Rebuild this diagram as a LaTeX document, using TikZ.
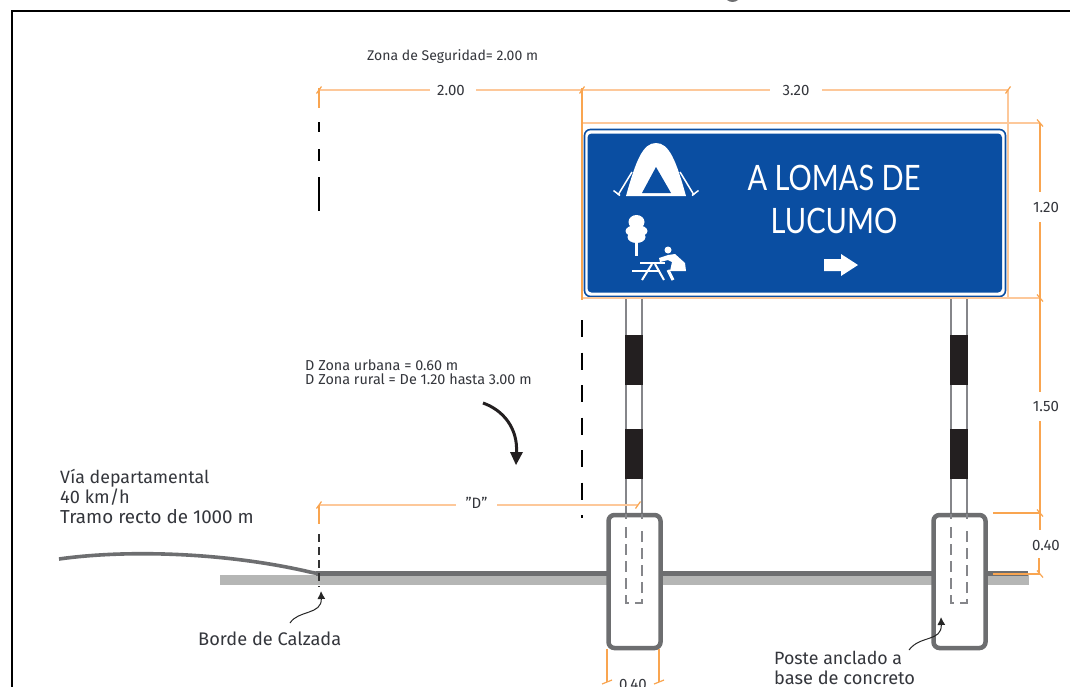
\documentclass[tikz,border=0pt]{standalone}
\usepackage{fontspec}
\setmainfont{Fira Sans}
\newfontfamily\signfont[FakeStretch=0.83]{Lato}
\usetikzlibrary{arrows.meta}
\definecolor{signblue}{HTML}{0A4EA2}
\definecolor{dimpale}{HTML}{FDC89A}
\definecolor{dimorange}{HTML}{F9A550}
\definecolor{roadgray}{HTML}{B5B6B5}
\definecolor{basegray}{HTML}{6D6E70}
\definecolor{postgray}{HTML}{85868A}
\definecolor{inkgray}{HTML}{34363C}
\definecolor{barblack}{HTML}{231F20}
\tikzset{
  dimline/.style={draw=dimpale,line width=1.6pt},
  dimvert/.style={draw=dimorange,line width=1.1pt},
  dimtick/.style={draw=dimorange,line width=1.2pt},
  dimlabel/.style={text=inkgray,font=\fontsize{15}{15}\selectfont,inner ysep=1pt},
  smalllabel/.style={text=inkgray,font=\fontsize{14.4}{14.4}\selectfont,anchor=west,inner sep=0pt},
  biglabel/.style={text=inkgray,font=\fontsize{18.2}{18.2}\selectfont,anchor=west,inner sep=0pt},
  signtext/.style={text=white,font=\signfont\fontsize{35}{35}\selectfont,inner sep=0pt},
  refdash/.style={draw=black,line width=1.3pt},
  postline/.style={draw=postgray,line width=1.4pt},
  postdash/.style={draw=postgray,line width=1.2pt,dash pattern=on 11pt off 6pt},
  basebox/.style={draw=basegray,line width=4.5pt,fill=white,rounded corners=6pt},
  band/.style={fill=barblack,draw=none},
  leader/.style={draw=black!85,line width=1pt,-{Latex[length=8pt,width=8pt]}},
  icon/.style={fill=white,draw=none},
  iconline/.style={draw=white,line width=1.5pt},
}
\begin{document}
\begin{tikzpicture}[x=1pt,y=-1pt]
\useasboundingbox (0,0) rectangle (1070,686);
\fill[white] (0,0) rectangle (1070,686);

% clipped bit of a title above the frame
\fill[basegray] (727,0) .. controls (730,2.6) and (735,2.6) .. (738,0) -- cycle;

% frame
\draw[black,line width=2pt] (12,687) -- (12,10.5) -- (1071,10.5);

% road
\fill[roadgray] (220,575) rectangle (1029,585);
\draw[basegray,line width=3.6pt] (59,559) .. controls (130,549) and (230,553) .. (312,572.5) -- (318,573.5);
\draw[basegray,line width=4.6pt] (316,573.5) -- (1028,573.5);

% named points of the dimension lines
\coordinate (zsL) at (319,90);
\coordinate (zsM) at (582,90);
\coordinate (zsR) at (1008,90);
\coordinate (hTop) at (1040,123);
\coordinate (hSign) at (1040,298);
\coordinate (hBase) at (1040,513);
\coordinate (hRoad) at (1040,574);
\coordinate (dL) at (319,505);
\coordinate (dR) at (638,505);
\coordinate (bL) at (607,682);
\coordinate (bR) at (659,682);

% dashed reference lines
\draw[refdash,dash pattern=on 10pt off 17pt on 12pt off 16pt on 34pt] (319,122) -- (319,212);
\draw[refdash,dash pattern=on 17pt off 15.5pt] (582,320) -- (582,518);
\draw[draw=black!80,line width=1.2pt,dash pattern=on 8pt off 5pt] (319,534) -- (319,587);

% posts
\foreach \px in {626,951}{
  \fill[white] (\px,298) rectangle (\px+16,514);
  \draw[postline] (\px,298) -- (\px,515);
  \draw[postline] (\px+16,298) -- (\px+16,515);
  \fill[band] (\px-0.7,335) rectangle (\px+16.7,385);
  \fill[band] (\px-0.7,429) rectangle (\px+16.7,479);
}

% concrete bases
\draw[basebox] (608.5,515) rectangle (660.5,648);
\draw[basebox] (933.5,515) rectangle (985.5,648);

% embedded post parts
\foreach \px in {626,951}{
  \draw[postline] (\px,514) -- (\px,519);
  \draw[postline] (\px+16,514) -- (\px+16,519);
  \draw[postdash] (\px,527) -- (\px,603) -- (\px+16,603) -- (\px+16,527);
}

% sign
\draw[signblue,line width=1.6pt,fill=white,rounded corners=6pt] (584.5,129.5) rectangle (1005.5,296.5);
\fill[signblue,rounded corners=4pt] (587.5,133.5) rectangle (1002,292.5);

% camping tent
\fill[icon] (626,196) .. controls (636,160) and (643,143) .. (656,143) .. controls (669,143) and (676,160) .. (686,196) -- cycle;
\fill[signblue] (642,193) -- (656,167) -- (671,193) -- cycle;
\draw[iconline] (632,172) -- (618,195);
\draw[iconline] (613.5,190.5) -- (620,195.5);
\draw[iconline] (680,172) -- (694,195);
\draw[iconline] (698.5,190.5) -- (692,195.5);

% tree
\fill[icon] (636.5,222) ellipse (8pt and 7pt);
\fill[icon] (636.5,231) ellipse (11pt and 6pt);
\fill[icon] (636.5,237) ellipse (9pt and 6pt);
\draw[iconline,line width=2.2pt] (636.5,240) -- (636.5,256);

% picnic table and person
\draw[iconline,line width=2pt] (640,262.7) -- (665,262.7);
\draw[iconline,line width=2pt] (632,271) -- (660,271);
\draw[iconline,line width=2pt] (652,264) -- (642,280);
\draw[iconline,line width=2pt] (655,264) -- (664,280);
\fill[icon] (668,250) circle (3.5pt);
\fill[icon] (659,258) -- (668,255) -- (675,254) -- (685,263) -- (686,271) -- (670,271) -- (672,262) -- (668,260) -- (660,262) -- cycle;
\draw[iconline,line width=3pt] (668,270) -- (673,280);

% sign text and arrow
\node[signtext] (signA) at (834,178) {A LOMAS DE};
\node[signtext] (signB) at (834,221) {LUCUMO};
\fill[icon] (824,259) -- (841,259) -- (841,254) -- (858,265) -- (841,276) -- (841,271) -- (824,271) -- cycle;

% dimension labels
\node[dimlabel,inner xsep=8pt] (t200) at (451,90) {2.00};
\node[dimlabel,inner xsep=12pt] (t320) at (796,90) {3.20};
\node[dimlabel] (tD) at (476.5,503) {"D"};
\node[dimlabel,inner ysep=7pt] (t120) at (1046,207) {1.20};
\node[dimlabel,inner ysep=7pt] (t150) at (1046,406) {1.50};
\node[dimlabel,inner ysep=5pt] (t040) at (1046,545) {0.40};
\node[dimlabel] (t040b) at (633,684) {0.40};

% dimension lines
\draw[dimline] (zsL) -- (430,90);
\draw[dimline] (476,90) -- (zsM);
\draw[dimline] (zsM) -- (770,90);
\draw[dimline] (822,90) -- (zsR);
\draw[dimline,line width=1.3pt] (zsR) -- (1008,298);
\draw[dimline,line width=1.3pt] (582,123) -- (hTop);
\draw[dimline,line width=1.3pt] (582,298) -- (hSign);
\draw[dimline] (dL) -- (456,505);
\draw[dimline] (497,505) -- (dR);
\draw[dimvert] (hTop) -- (1040,192);
\draw[dimvert] (1040,222) -- (hSign);
\draw[dimvert] (hSign) -- (1040,392);
\draw[dimvert] (1040,421) -- (hBase);
\draw[dimvert] (hBase) -- (1040,530);
\draw[dimvert] (1039,558) -- (1039,574);
\draw[dimvert] (993,513) -- (hBase);
\draw[dimvert] (993,574) -- (hRoad);
\draw[dimvert] (319,88) -- (319,108);
\draw[dimvert] (582,88) -- (582,300);
\draw[dimvert] (319,505) -- (319,524);
\draw[dimvert] (607,649) -- (bL);
\draw[dimvert] (659,649) -- (bR);

% ticks
\foreach \c in {zsL,zsM,zsR,dL,dR}{
  \draw[dimtick] ([shift={(-2.5,3.5)}]\c) -- ([shift={(2.5,-3.5)}]\c);
}
\foreach \c in {hTop,hSign,hBase,hRoad}{
  \draw[dimtick] ([shift={(-3,-3.5)}]\c) -- ([shift={(3,3.5)}]\c);
}
\foreach \c in {bL,bR}{
  \draw[dimtick] ([shift={(-5,2)}]\c) -- ([shift={(5,-2)}]\c);
}

% texts
\node[smalllabel,font=\fontsize{14}{14}\selectfont] (zs) at (367,57) {Zona de Seguridad= 2.00 m};
\node[smalllabel] (du) at (305,365) {D Zona urbana = 0.60 m};
\node[smalllabel] (dr) at (305,379) {D Zona rural = De 1.20 hasta 3.00 m};
\node[biglabel,font=\fontsize{17.8}{17.8}\selectfont] (via1) at (60,478) {Vía departamental};
\node[biglabel] (via2) at (60,497) {40 km/h};
\node[biglabel,font=\fontsize{18.8}{18.8}\selectfont] (via3) at (60,517) {Tramo recto de 1000 m};
\node[biglabel] (bc) at (198,639) {Borde de Calzada};
\node[biglabel,font=\fontsize{17.8}{17.8}\selectfont] (po1) at (774,658) {Poste anclado a};
\node[biglabel] (po2) at (774,678) {base de concreto};

% arrows
\coordinate (dA) at (483,403);
\coordinate (dB) at (516,465);
\draw[barblack,line width=3pt] (dA) .. controls (503,410) and (518,428) .. (516.5,453);
\fill[barblack] (510,452) -- (523,452) -- (dB) -- cycle;
\coordinate (bcA) at (290,623);
\coordinate (bcB) at (321,591);
\draw[leader] (bcA) .. controls (298,610) and (322,615) .. (bcB);
\coordinate (poA) at (909,650);
\coordinate (poB) at (941,617);
\draw[leader] (poA) .. controls (920,635) and (942,642) .. (poB);
\end{tikzpicture}
\end{document}
